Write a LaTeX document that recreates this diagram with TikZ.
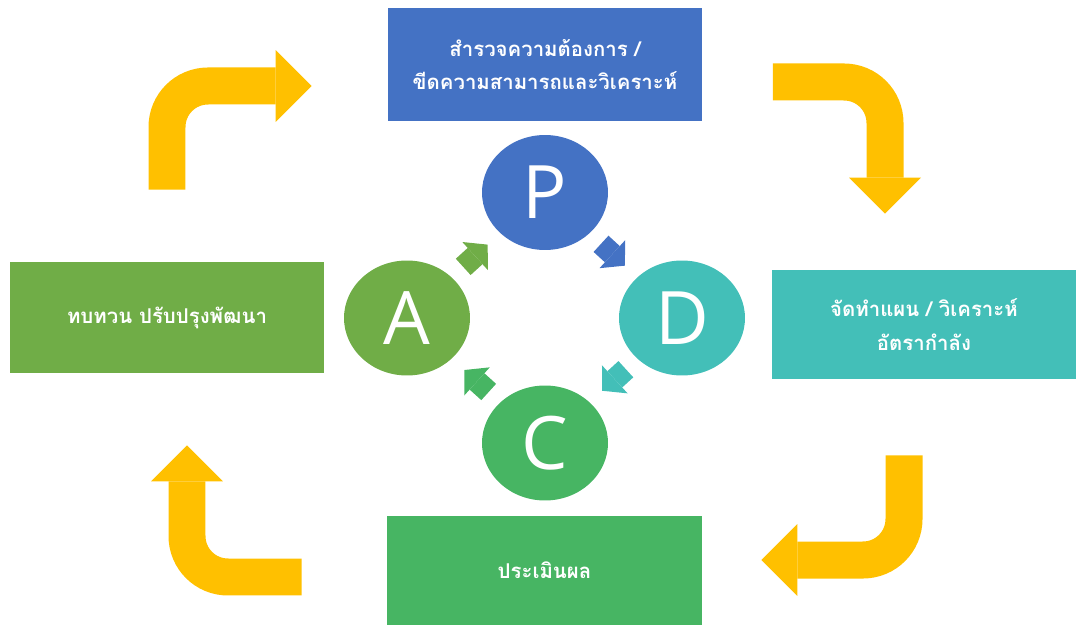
\documentclass[tikz,border=0pt]{standalone}
\usepackage{fontspec}
\newfontfamily\thaifont[Script=Thai]{Loma}
\newfontfamily\letterfont{Open Sans}
\definecolor{pdblue}{RGB}{68,114,196}
\definecolor{pdteal}{RGB}{67,191,184}
\definecolor{pdgreen}{RGB}{71,181,99}
\definecolor{pdolive}{RGB}{112,173,71}
\definecolor{pdyellow}{RGB}{255,192,0}
\usetikzlibrary{arrows.meta,positioning,shapes.geometric}

\begin{document}
\begin{tikzpicture}[x=0.02cm, y=-0.02cm,
    stagebox/.style={rectangle, minimum width=6.3cm, minimum height=2.2cm, inner sep=0pt,
      align=center, text=white, font=\thaifont\bfseries\fontsize{11.6}{19}\selectfont},
    phase/.style={ellipse, minimum width=2.52cm, minimum height=2.3cm, inner sep=0pt,
      text=white, font=\letterfont\fontsize{42}{48}\selectfont},
    cyclearrow/.style={line width=0.44cm, shorten <=1.52cm, shorten >=1.55cm,
      -{Triangle[length=0.34cm, width=0.76cm, line width=0pt]}},
    looparrow/.style={pdyellow, line width=0.74cm, rounded corners=0.82cm,
      -{Triangle[length=0.72cm, width=1.44cm, line width=0pt]}}
  ]
    \useasboundingbox (0,0) rectangle (1076,625);
    \node[stagebox, fill=pdblue, minimum height=2.26cm] (survey) at (545,64.5) {สำรวจความต้องการ /\\ขีดความสามารถและวิเคราะห์};
    \node[stagebox, fill=pdteal, minimum width=6.08cm, minimum height=2.18cm] (plan) at (924,324.5) {จัดทำแผน / วิเคราะห์\\อัตรากำลัง};
    \node[stagebox, fill=pdgreen, minimum height=2.18cm] (evaluate) at (544.5,570.5) {ประเมินผล};
    \node[stagebox, fill=pdolive, minimum width=6.28cm, minimum height=2.22cm] (review) at (167,317.5) {ทบทวน ปรับปรุงพัฒนา};
    \node[phase, fill=pdblue]  (P) at (545,192.5) {P};
    \node[phase, fill=pdteal]  (D) at (682,318)   {D};
    \node[phase, fill=pdgreen] (C) at (545,443)   {C};
    \node[phase, fill=pdolive] (A) at (407,318)   {A};
    \draw[cyclearrow, pdblue]  (P.center) -- (D.center);
    \draw[cyclearrow, pdteal]  (D.center) -- (C.center);
    \draw[cyclearrow, pdgreen] (C.center) -- (A.center);
    \draw[cyclearrow, pdolive] (A.center) -- (P.center);
    \draw[looparrow, shorten <=1.44cm, shorten >=1.51cm] (review.north) |- ([yshift=-0.43cm]survey.west);
    \draw[looparrow, shorten <=1.4cm, shorten >=1.12cm] ([yshift=-0.35cm]survey.east) -| ([xshift=-0.78cm]plan.north);
    \draw[looparrow, shorten <=1.52cm, shorten >=1.18cm] ([xshift=-0.4cm]plan.south) |- ([yshift=0.21cm]evaluate.east);
    \draw[looparrow, shorten <=1.7cm, shorten >=1.44cm] ([yshift=-0.13cm]evaluate.west) -| ([xshift=0.4cm]review.south);
  \end{tikzpicture}
\end{document}
